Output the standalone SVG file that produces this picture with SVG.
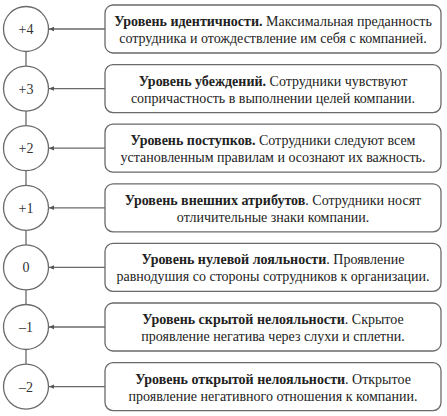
<svg xmlns="http://www.w3.org/2000/svg" width="447" height="416" viewBox="0 0 447 416">
<defs>
<marker id="ah" markerWidth="6" markerHeight="6" refX="5" refY="3" orient="auto" markerUnits="userSpaceOnUse">
<path d="M0,0.8 L5,3 L0,5.2 Z" fill="#555"/>
</marker>
</defs>
<rect width="447" height="416" fill="#fff"/>
<g id="connectors" stroke="#6a6a6a" stroke-width="1.3" fill="none">
<line x1="26" y1="51.5" x2="26" y2="66.1"/>
<line x1="26" y1="111.1" x2="26" y2="125.7"/>
<line x1="26" y1="170.7" x2="26" y2="185.3"/>
<line x1="26" y1="230.3" x2="26" y2="244.9"/>
<line x1="26" y1="289.9" x2="26" y2="304.5"/>
<line x1="26" y1="349.5" x2="26" y2="364.1"/>
<line x1="105" y1="29" x2="49" y2="29" marker-end="url(#ah)"/>
<line x1="105" y1="88.6" x2="49" y2="88.6" marker-end="url(#ah)"/>
<line x1="105" y1="148.2" x2="49" y2="148.2" marker-end="url(#ah)"/>
<line x1="105" y1="207.8" x2="49" y2="207.8" marker-end="url(#ah)"/>
<line x1="105" y1="267.4" x2="49" y2="267.4" marker-end="url(#ah)"/>
<line x1="105" y1="327" x2="49" y2="327" marker-end="url(#ah)"/>
<line x1="105" y1="386.6" x2="49" y2="386.6" marker-end="url(#ah)"/>
</g>
<g id="nodes" font-family="Liberation Serif" font-size="14" text-anchor="middle">
<g id="n4"><circle cx="26" cy="29" r="22.5" fill="#fff" stroke="#6a6a6a" stroke-width="1.3"/><text x="26" y="34" fill="#333">+4</text></g>
<g id="n3"><circle cx="26" cy="88.6" r="22.5" fill="#fff" stroke="#6a6a6a" stroke-width="1.3"/><text x="26" y="93.6" fill="#333">+3</text></g>
<g id="n2"><circle cx="26" cy="148.2" r="22.5" fill="#fff" stroke="#6a6a6a" stroke-width="1.3"/><text x="26" y="153.2" fill="#333">+2</text></g>
<g id="n1"><circle cx="26" cy="207.8" r="22.5" fill="#fff" stroke="#6a6a6a" stroke-width="1.3"/><text x="26" y="212.8" fill="#333">+1</text></g>
<g id="n0"><circle cx="26" cy="267.4" r="22.5" fill="#fff" stroke="#6a6a6a" stroke-width="1.3"/><text x="26" y="272.4" fill="#333">0</text></g>
<g id="nm1"><circle cx="26" cy="327" r="22.5" fill="#fff" stroke="#6a6a6a" stroke-width="1.3"/><text x="26" y="332" fill="#333">–1</text></g>
<g id="nm2"><circle cx="26" cy="386.6" r="22.5" fill="#fff" stroke="#6a6a6a" stroke-width="1.3"/><text x="26" y="391.6" fill="#333">–2</text></g>
<g id="b4"><rect x="105" y="5" width="336" height="48" rx="8" fill="#fff" stroke="#6a6a6a" stroke-width="1.3"/>
<text x="273" y="26" fill="#222"><tspan font-weight="bold">Уровень идентичности.</tspan> Максимальная преданность</text>
<text x="273" y="43" fill="#222">сотрудника и отождествление им себя с компанией.</text></g>
<g id="b3"><rect x="105" y="64.6" width="336" height="48" rx="8" fill="#fff" stroke="#6a6a6a" stroke-width="1.3"/>
<text x="273" y="85.6" fill="#222"><tspan font-weight="bold">Уровень убеждений.</tspan> Сотрудники чувствуют</text>
<text x="273" y="102.6" fill="#222">сопричастность в выполнении целей компании.</text></g>
<g id="b2"><rect x="105" y="124.2" width="336" height="48" rx="8" fill="#fff" stroke="#6a6a6a" stroke-width="1.3"/>
<text x="273" y="145.2" fill="#222"><tspan font-weight="bold">Уровень поступков.</tspan> Сотрудники следуют всем</text>
<text x="273" y="162.2" fill="#222">установленным правилам и осознают их важность.</text></g>
<g id="b1"><rect x="105" y="183.8" width="336" height="48" rx="8" fill="#fff" stroke="#6a6a6a" stroke-width="1.3"/>
<text x="273" y="204.8" fill="#222"><tspan font-weight="bold">Уровень внешних атрибутов</tspan>. Сотрудники носят</text>
<text x="273" y="221.8" fill="#222">отличительные знаки компании.</text></g>
<g id="b0"><rect x="105" y="243.4" width="336" height="48" rx="8" fill="#fff" stroke="#6a6a6a" stroke-width="1.3"/>
<text x="273" y="264.4" fill="#222"><tspan font-weight="bold">Уровень нулевой лояльности</tspan>. Проявление</text>
<text x="273" y="281.4" fill="#222">равнодушия со стороны сотрудников к организации.</text></g>
<g id="bm1"><rect x="105" y="303" width="336" height="48" rx="8" fill="#fff" stroke="#6a6a6a" stroke-width="1.3"/>
<text x="273" y="324" fill="#222"><tspan font-weight="bold">Уровень скрытой нелояльности</tspan>. Скрытое</text>
<text x="273" y="341" fill="#222">проявление негатива через слухи и сплетни.</text></g>
<g id="bm2"><rect x="105" y="362.6" width="336" height="48" rx="8" fill="#fff" stroke="#6a6a6a" stroke-width="1.3"/>
<text x="273" y="383.6" fill="#222"><tspan font-weight="bold">Уровень открытой нелояльности</tspan>. Открытое</text>
<text x="273" y="400.6" fill="#222">проявление негативного отношения к компании.</text></g>
</g>
</svg>
